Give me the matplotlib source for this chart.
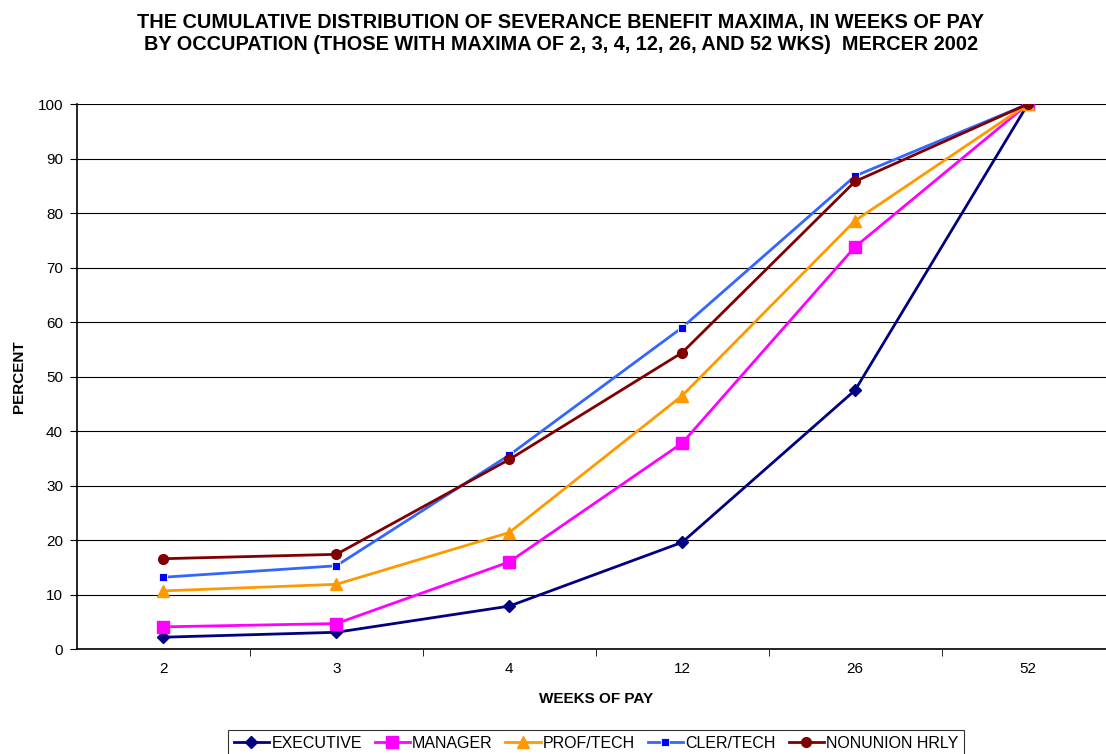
import numpy as np
import matplotlib.pyplot as plt
from matplotlib.ticker import FixedLocator

plt.rcParams['font.family'] = ['Liberation Sans', 'DejaVu Sans']

# ------------------ DATOS ------------------
semanas = ['2', '3', '4', '12', '26', '52']

executive = [2.2, 3.1, 7.9, 19.6, 47.5, 100]
manager   = [4.1, 4.7, 16.0, 37.8, 73.8, 100]
prof_tech = [10.7, 11.9, 21.4, 46.5, 78.6, 100]
cler_tech = [13.2, 15.3, 35.6, 59.0, 86.8, 100]
nonunion  = [16.6, 17.4, 34.8, 54.4, 85.8, 100]

# ------------------ FIGURA ------------------
fig = plt.figure(figsize=(11.06, 7.54), dpi=100)
ax = fig.add_axes([0.0696, 0.139, 0.938, 0.723])

x = np.arange(len(semanas))

ax.plot(x, executive, color='#000080', lw=2, marker='D', ms=6,
        mfc='#000080', mec='#000080', label='EXECUTIVE')
ax.plot(x, manager, color='#FF00FF', lw=2, marker='s', ms=9,
        mfc='#FF00FF', mec='#FF00FF', label='MANAGER')
ax.plot(x, prof_tech, color='#FF9900', lw=2, marker='^', ms=9,
        mfc='#FF9900', mec='#FF9900', label='PROF/TECH')
ax.plot(x, cler_tech, color='#3366FF', lw=2, marker='s', ms=6,
        mfc='#0000FF', mec='white', mew=0.6, label='CLER/TECH')
ax.plot(x, nonunion, color='#800000', lw=2, marker='o', ms=7,
        mfc='#800000', mec='#800000', label='NONUNION HRLY')

ax.set_xlim(-0.5, len(semanas) - 0.5)
ax.set_ylim(0, 100)
ax.set_yticks(range(0, 101, 10))
ax.set_xticks(x)
ax.set_xticklabels(semanas, fontsize=11)
ax.tick_params(axis='x', which='major', length=0, pad=9)
ax.xaxis.set_minor_locator(FixedLocator(x[:-1] + 0.5))
ax.tick_params(axis='x', which='minor', length=5, direction='out')
ax.tick_params(axis='y', length=5, direction='out', labelsize=11, pad=5)

ax.grid(axis='y', color='black', lw=0.8)
ax.set_axisbelow(True)
for s in ['top', 'right']:
    ax.spines[s].set_visible(False)
ax.spines['left'].set_linewidth(1.2)
ax.spines['bottom'].set_linewidth(1.2)

ax.set_xlabel('WEEKS OF PAY', fontsize=11, fontweight='bold', labelpad=12)
ax.set_ylabel('PERCENT', fontsize=11, fontweight='bold', labelpad=8)

fig.text(0.507, 0.955,
         'THE CUMULATIVE DISTRIBUTION OF SEVERANCE BENEFIT MAXIMA, IN WEEKS OF PAY\n'
         'BY OCCUPATION (THOSE WITH MAXIMA OF 2, 3, 4, 12, 26, AND 52 WKS)  MERCER 2002',
         ha='center', va='center', fontsize=14.3, fontweight='bold', linespacing=1.2)

leg = fig.legend(loc='lower center', bbox_to_anchor=(0.539, -0.014), ncol=5,
                 fontsize=11.5, frameon=True, fancybox=False, edgecolor='black',
                 handlelength=2.2, handletextpad=0.15, columnspacing=0.8,
                 borderpad=0.35)
leg.get_frame().set_linewidth(0.8)

plt.savefig('out.png', dpi=100)
